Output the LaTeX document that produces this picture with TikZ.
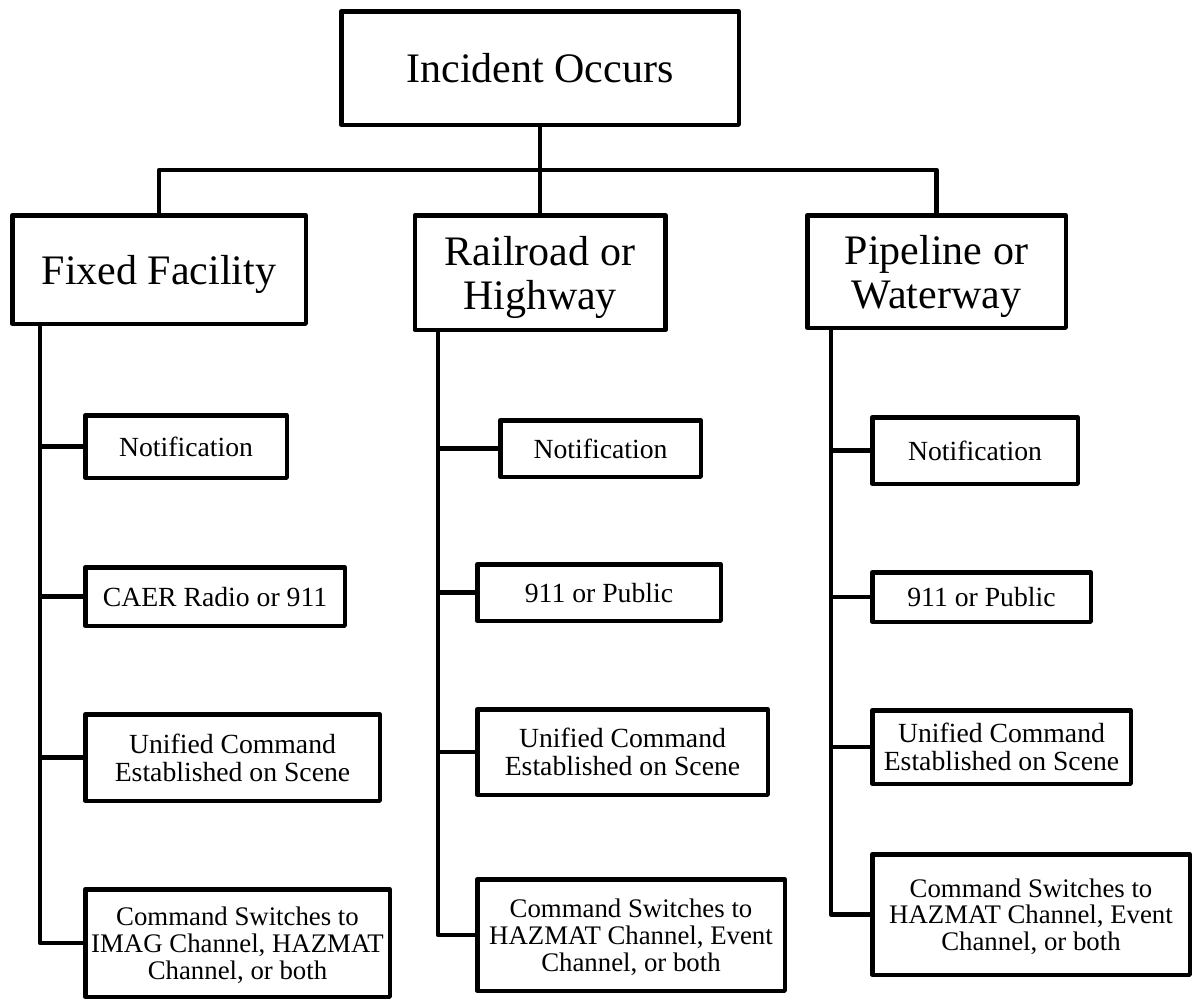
\documentclass[tikz,border=0pt]{standalone}
\usepackage{fontspec}
\setmainfont{Liberation Serif}
\begin{document}
\begin{tikzpicture}[x=1pt,y=-1pt,
  wire/.style={line width=4.5pt,line join=round},
  box/.style 2 args={draw,line width=4.5pt,line join=round,inner sep=0pt,
    align=center,text depth=0pt,minimum width=#1,minimum height=#2},
  big/.style={font=\fontsize{42}{44}\selectfont},
  small/.style={font=\fontsize{27.7}{28.3}\selectfont},
  smaller/.style={font=\fontsize{26.8}{26.7}\selectfont}]
\useasboundingbox (0,0) rectangle (1196,1001);

% top of the tree
\node[box={397.5pt}{113.5pt},big] (top) at (540,68) {Incident Occurs};

% three incident categories
\node[box={293.5pt}{108.5pt},big] (fixed) at (159,269.5) {Fixed Facility};
\node[box={250.5pt}{114.5pt},big] (rail) at (540,272.5) {Railroad or\\Highway};
\node[box={258.5pt}{112.5pt},big] (pipe) at (936.5,271.5) {Pipeline or\\Waterway};

% fixed facility steps
\node[box={201.5pt}{62.5pt},small] (f1) at (186,446.5) {Notification};
\node[box={259.5pt}{58.5pt},small] (f2) at (215,596.5) {CAER Radio or 911};
\node[box={294.5pt}{86.5pt},small] (f3) at (232.5,757.5) {Unified Command\\Established on Scene};
\node[box={304.5pt}{107.5pt},smaller] (f4) at (237.5,943) {Command Switches to\\IMAG Channel, HAZMAT\\Channel, or both};

% railroad / highway steps
\node[box={200.5pt}{56.5pt},small] (r1) at (600.5,448.5) {Notification};
\node[box={243.5pt}{56.5pt},small] (r2) at (599,592.5) {911 or Public};
\node[box={290.5pt}{85.5pt},small] (r3) at (622.5,752) {Unified Command\\Established on Scene};
\node[box={307.5pt}{111.5pt},smaller] (r4) at (631,935) {Command Switches to\\HAZMAT Channel, Event\\Channel, or both};

% pipeline / waterway steps
\node[box={205.5pt}{66.5pt},small] (p1) at (975,450.5) {Notification};
\node[box={218.5pt}{49.5pt},small] (p2) at (981.5,597) {911 or Public};
\node[box={258.5pt}{73.5pt},small] (p3) at (1001.5,747) {Unified Command\\Established on Scene};
\node[box={317.5pt}{120.5pt},smaller] (p4) at (1031,914.5) {Command Switches to\\HAZMAT Channel, Event\\Channel, or both};

% branching bus and trunk positions
\coordinate (bus) at (0,170);
\coordinate (ft) at (40,0);
\coordinate (rt) at (438,0);
\coordinate (pt) at (831,0);

\draw[wire] (top.south) -- (rail.north);
\draw[wire] (fixed.north) -- (fixed.north |- bus) -- (pipe.north |- bus) -- (pipe.north);

% trunks with their side branches
\draw[wire] (ft |- fixed.south) -- (ft |- f4.west) -- (f4.west);
\foreach \n in {f1,f2,f3} \draw[wire] (ft |- \n.west) -- (\n.west);

\draw[wire] (rt |- rail.south) -- (rt |- r4.west) -- (r4.west);
\foreach \n in {r1,r2,r3} \draw[wire] (rt |- \n.west) -- (\n.west);

\draw[wire] (pt |- pipe.south) -- (pt |- p4.west) -- (p4.west);
\foreach \n in {p1,p2,p3} \draw[wire] (pt |- \n.west) -- (\n.west);
\end{tikzpicture}
\end{document}
